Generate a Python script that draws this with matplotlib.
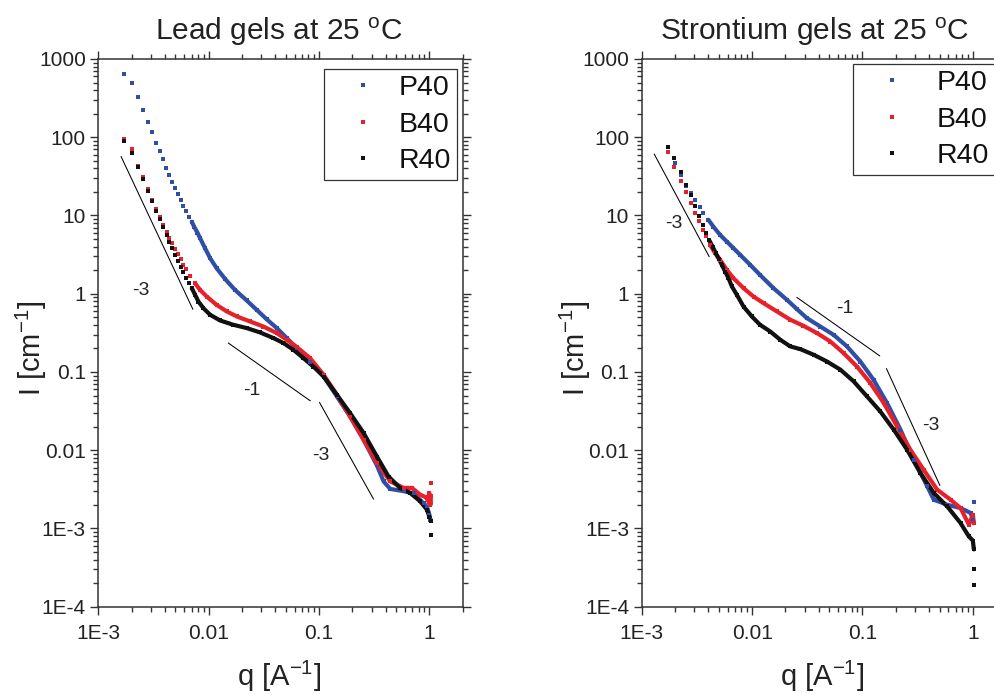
import matplotlib
matplotlib.use("Agg")
import matplotlib.pyplot as plt
from matplotlib.ticker import FixedLocator, FixedFormatter, LogLocator, NullFormatter

# ---------------- data ----------------
series_names = ["P40", "B40", "R40"]
series_colors = ["#2f4fa6", "#e8202a", "#111111"]

x_tick_values = [1e-3, 1e-2, 1e-1, 1.0]
x_tick_labels = ["1E-3", "0.01", "0.1", "1"]
y_tick_values = [1e-4, 1e-3, 1e-2, 1e-1, 1.0, 10.0, 100.0, 1000.0]
y_tick_labels = ["1E-4", "1E-3", "0.01", "0.1", "1", "10", "100", "1000"]

# Lead gels
lead_p40_q = [0.00172, 0.00201, 0.00228, 0.00252, 0.00280, 0.00307, 0.00334, 0.00360,
              0.00386, 0.00414, 0.00441, 0.00466, 0.00496, 0.00525, 0.00559, 0.00590,
              0.00624, 0.00660, 0.00703, 0.00742, 0.00790, 0.00836, 0.00927, 0.0103,
              0.0118, 0.0141, 0.0173, 0.0221, 0.0273, 0.0336, 0.0414, 0.0510, 0.0629,
              0.083, 0.110, 0.145, 0.191, 0.253, 0.334, 0.384, 0.441, 0.582, 0.718,
              0.883, 0.95, 1.0, 1.016]
lead_p40_I = [643, 490, 330, 225, 157, 115, 85, 66,
              52, 41, 33, 27, 22.3, 18.7, 15.8, 13.4,
              11.4, 9.7, 8.3, 7.1, 6.06, 5.13, 3.82, 2.85,
              2.12, 1.54, 1.12, 0.82, 0.62, 0.47, 0.364, 0.271, 0.202,
              0.136, 0.0875, 0.0486, 0.027, 0.0136, 0.0064, 0.0040, 0.0032, 0.0030, 0.0028,
              0.0021, 0.0019, 0.0015, 0.0013]
lead_b40_q = [0.00172, 0.00201, 0.00228, 0.00252, 0.00280, 0.00307, 0.00334, 0.00362,
              0.00388, 0.00417, 0.00441, 0.00469, 0.00496, 0.00525, 0.00559, 0.00590,
              0.00624, 0.00678, 0.00753, 0.00836, 0.0096, 0.0118, 0.0146, 0.0180,
              0.0237, 0.0313, 0.0414, 0.0510, 0.0629, 0.083, 0.110, 0.145, 0.191,
              0.253, 0.334, 0.441, 0.582, 0.693, 0.824, 0.93, 0.98, 1.0, 1.02, 1.03]
lead_b40_I = [95, 70, 43, 30.8, 21.7, 15.8, 12.1, 9.7,
              7.6, 6.2, 5.2, 4.43, 3.71, 3.2, 2.77, 2.36,
              2.06, 1.69, 1.36, 1.12, 0.92, 0.72, 0.593, 0.512,
              0.442, 0.381, 0.314, 0.258, 0.208, 0.150, 0.092, 0.0511, 0.027,
              0.0136, 0.0069, 0.0040, 0.0033, 0.0033, 0.0027, 0.0025, 0.0022, 0.0028, 0.0020, 0.0026]
lead_r40_q = [0.00172, 0.00201, 0.00228, 0.00252, 0.00280, 0.00307, 0.00334, 0.00362,
              0.00388, 0.00417, 0.00441, 0.00469, 0.00496, 0.00525, 0.00559, 0.00590,
              0.00624, 0.00660, 0.00703, 0.00753, 0.00807, 0.00896, 0.0103, 0.0127,
              0.0167, 0.0221, 0.0292, 0.0386, 0.0476, 0.0586, 0.0722, 0.0889, 0.110,
              0.145, 0.191, 0.253, 0.334, 0.426, 0.543, 0.670, 0.825, 0.948, 1.0, 1.03]
lead_r40_I = [90.6, 63, 41.4, 29.1, 20.6, 15.4, 11.4, 9.05,
              7.2, 5.65, 4.64, 3.82, 3.14, 2.65, 2.22, 1.89,
              1.60, 1.36, 1.18, 0.968, 0.795, 0.654, 0.538, 0.455,
              0.401, 0.364, 0.320, 0.271, 0.234, 0.192, 0.150, 0.117, 0.0875,
              0.0511, 0.0298, 0.0166, 0.0083, 0.0046, 0.00329, 0.00284, 0.00222, 0.00174, 0.0014, 0.00125]
lead_stray_q = [[], [1.03], [1.03]]
lead_stray_I = [[], [0.0038], [0.00083]]

# Strontium gels
sr_p40_q = [0.00201, 0.00226, 0.00252, 0.00279, 0.00305, 0.00334, 0.00362, 0.00402,
            0.00446, 0.00513, 0.00590, 0.00678, 0.00780, 0.00962, 0.0118, 0.0156,
            0.0207, 0.0255, 0.0314, 0.0415, 0.0548, 0.0724, 0.0957, 0.126, 0.167,
            0.221, 0.292, 0.386, 0.443, 0.586, 0.774, 0.953, 1.0, 1.02]
sr_p40_I = [46.6, 33, 24.0, 19.3, 15.8, 13.0, 10.9, 8.8,
            7.2, 5.65, 4.64, 3.82, 3.14, 2.34, 1.74, 1.18,
            0.835, 0.635, 0.487, 0.381, 0.298, 0.212, 0.136, 0.0795, 0.040,
            0.0183, 0.0076, 0.00345, 0.00233, 0.00201, 0.00182, 0.00158, 0.0013, 0.00117]
sr_b40_q = [0.00172, 0.00198, 0.00226, 0.00252, 0.00280, 0.00306, 0.00331, 0.00357,
            0.00383, 0.00417, 0.00462, 0.00513, 0.00590, 0.00678, 0.00836, 0.0103,
            0.0127, 0.0168, 0.0222, 0.0292, 0.0387, 0.0512, 0.0675, 0.0893, 0.118,
            0.156, 0.206, 0.272, 0.359, 0.475, 0.628, 0.774, 0.920, 1.0, 1.02]
sr_b40_I = [65.5, 41.4, 27.7, 19.9, 14.4, 10.7, 8.4, 6.5,
            5.4, 4.2, 3.3, 2.71, 2.02, 1.58, 1.18, 0.92,
            0.758, 0.593, 0.465, 0.389, 0.314, 0.245, 0.174, 0.117, 0.072,
            0.040, 0.0201, 0.0101, 0.0056, 0.00313, 0.00233, 0.00182, 0.00112, 0.0015, 0.00117]
sr_r40_q = [0.00172, 0.00198, 0.00226, 0.00252, 0.00280, 0.00306, 0.00331, 0.00357,
            0.00383, 0.00410, 0.00441, 0.00469, 0.00500, 0.00532, 0.00570, 0.00611,
            0.00656, 0.00728, 0.00836, 0.00995, 0.0118, 0.0146, 0.0180, 0.0222,
            0.0273, 0.0361, 0.0477, 0.0631, 0.0833, 0.110, 0.145, 0.192, 0.254,
            0.335, 0.443, 0.586, 0.774, 0.920, 1.0, 1.02]
sr_r40_I = [75.9, 54, 35.7, 24.6, 18.3, 13.3, 9.9, 7.6,
            5.94, 4.79, 3.94, 3.3, 2.79, 2.34, 1.92, 1.58,
            1.24, 0.968, 0.686, 0.512, 0.401, 0.329, 0.258, 0.212,
            0.196, 0.166, 0.136, 0.107, 0.0757, 0.0486, 0.0313, 0.0183, 0.0101,
            0.0051, 0.00284, 0.00191, 0.00117, 0.00079, 0.0007, 0.00054]
sr_stray_q = [[1.02], [], [1.02, 1.02]]
sr_stray_I = [[0.00215], [], [0.00030, 0.00019]]

# Power-law guide segments: (q0, I0, q1, I1) and their slope labels
lead_guides = [(0.00161, 56.5, 0.00718, 0.635), (0.0151, 0.234, 0.083, 0.0429),
               (0.101, 0.0407, 0.311, 0.00238)]
lead_guide_labels = [(0.00244, 1.1, "-3"), (0.0246, 0.0575, "-1"), (0.1045, 0.0085, "-3")]
sr_guides = [(0.0013, 60.7, 0.00408, 2.99), (0.0255, 0.895, 0.143, 0.161),
             (0.165, 0.110, 0.502, 0.00356)]
sr_guide_labels = [(0.00194, 7.8, "-3"), (0.0686, 0.655, "-1"), (0.413, 0.0206, "-3")]

# ---------------- styling ----------------
plt.rcParams['font.family'] = ['Liberation Sans', 'DejaVu Sans']
plt.rcParams['mathtext.fontset'] = 'custom'
plt.rcParams['mathtext.rm'] = 'Liberation Sans'
plt.rcParams['mathtext.it'] = 'Liberation Sans:italic'
plt.rcParams['mathtext.default'] = 'regular'

W, H = 995, 695
fig = plt.figure(figsize=(W / 100, H / 100), dpi=100)

spine_col = "#333333"
text_col = "#222222"


def px_rect(x0, y0, x1, y1):
    return [x0 / W, 1 - y1 / H, (x1 - x0) / W, (y1 - y0) / H]


ax_left = fig.add_axes(px_rect(98.3, 59.0, 462.7, 606.7))
ax_right = fig.add_axes(px_rect(641.7, 59.0, 1006.1, 606.7))

panels = [
    (ax_left, [(lead_p40_q, lead_p40_I), (lead_b40_q, lead_b40_I), (lead_r40_q, lead_r40_I)],
     lead_stray_q, lead_stray_I, lead_guides, lead_guide_labels, 0.0068,
     (0.620, 0.981), 0.09),
    (ax_right, [(sr_p40_q, sr_p40_I), (sr_b40_q, sr_b40_I), (sr_r40_q, sr_r40_I)],
     sr_stray_q, sr_stray_I, sr_guides, sr_guide_labels, 0.0040,
     (0.5807, 0.990), 0.40),
]

for ax, data, stray_q, stray_I, guides, glabels, q_dense, leg_anchor, leg_pad in panels:
    handles = []
    for (q, I), sq, sI, col, name in zip(data, stray_q, stray_I, series_colors, series_names):
        # densely sampled part of the curve merges into a continuous band
        dq = [a for a in q if a >= q_dense]
        dI = [b for a, b in zip(q, I) if a >= q_dense]
        ax.plot(dq, dI, '-', color=col, lw=3.0, solid_capstyle='round',
                solid_joinstyle='round', zorder=2)
        h, = ax.plot(q, I, 's', color=col, ms=2.9, mew=0, ls='none', zorder=3, label=name)
        ax.plot(sq, sI, 's', color=col, ms=2.9, mew=0, ls='none', zorder=3)
        handles.append(h)

    for (q0, i0, q1, i1) in guides:
        ax.plot([q0, q1], [i0, i1], '-', color='black', lw=0.75, zorder=1)
    for (qx, iy, txt) in glabels:
        ax.text(qx, iy, txt, fontsize=14, ha='center', va='center', color=text_col)

    ax.set_xscale('log')
    ax.set_yscale('log')
    ax.set_xlim(1e-3, 2.0)
    ax.set_ylim(1e-4, 1000)

    ax.xaxis.set_major_locator(FixedLocator(x_tick_values))
    ax.xaxis.set_major_formatter(FixedFormatter(x_tick_labels))
    ax.yaxis.set_major_locator(FixedLocator(y_tick_values))
    ax.yaxis.set_major_formatter(FixedFormatter(y_tick_labels))
    ax.xaxis.set_minor_locator(LogLocator(base=10, subs=range(2, 10), numticks=20))
    ax.yaxis.set_minor_locator(LogLocator(base=10, subs=range(2, 10), numticks=20))
    ax.xaxis.set_minor_formatter(NullFormatter())
    ax.yaxis.set_minor_formatter(NullFormatter())

    ax.tick_params(which='both', direction='out', top=True, right=True,
                   labeltop=False, labelright=False, color=spine_col, width=1.0,
                   labelcolor=text_col, labelsize=15)
    ax.tick_params(which='major', length=6.0)
    ax.tick_params(which='minor', length=3.5)
    ax.tick_params(axis='x', which='major', pad=6.5)
    ax.tick_params(axis='y', which='major', pad=3.0)
    for sp in ax.spines.values():
        sp.set_color(spine_col)
        sp.set_linewidth(1.1)

    leg = ax.legend(handles=handles, labels=series_names, loc='upper left',
                    bbox_to_anchor=leg_anchor, borderaxespad=0, fontsize=20.5,
                    numpoints=1, markerscale=1.0, handlelength=2.34,
                    handletextpad=leg_pad, borderpad=0.2, labelspacing=0.37,
                    frameon=True, fancybox=False, shadow=False)
    fr = leg.get_frame()
    fr.set_edgecolor(spine_col)
    fr.set_linewidth(0.9)
    fr.set_facecolor('white')
    fr.set_alpha(1.0)
    for t in leg.get_texts():
        t.set_color('#111111')

# Titles and axis labels
fig.text(279 / W, 1 - 40 / H, r"Lead gels at 25 $^{o}$C", ha='center', va='baseline',
         fontsize=21.5, color=text_col)
fig.text(815 / W, 1 - 40 / H, r"Strontium gels at 25 $^{o}$C", ha='center', va='baseline',
         fontsize=21.5, color=text_col)
for cx in (279.5, 822):
    fig.text(cx / W, 1 - 686 / H, r"q [A$^{-1}$]", ha='center', va='baseline',
             fontsize=21, color=text_col)
for cx in (31, 575):
    fig.text(cx / W, 1 - 348 / H, r"I [cm$^{-1}$]", ha='center', va='center',
             rotation=90, fontsize=21, color=text_col)

fig.savefig("out.png", dpi=100)
